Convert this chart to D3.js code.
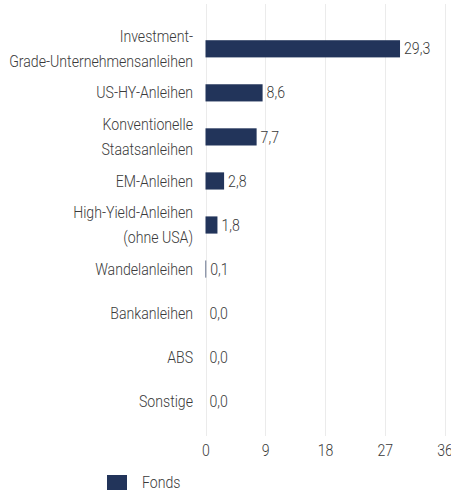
<!DOCTYPE html>
<html lang="de">
<head>
  <meta charset="UTF-8">
  <title>Fonds</title>
  <script src="https://d3js.org/d3.v7.min.js"></script>
  <style>
    body {
      margin: 0;
      padding: 0;
      background: #fff;
    }
    svg text {
      font-family: Roboto, "DejaVu Sans", sans-serif;
      font-weight: 300;
      font-size: 16px;
      fill: #3a3a3a;
    }
  </style>
</head>
<body>
<svg id="chart" width="451" height="495"></svg>
<script>
const categories = [
  ["Investment-", "Grade-Unternehmensanleihen"],
  ["US-HY-Anleihen"],
  ["Konventionelle", "Staatsanleihen"],
  ["EM-Anleihen"],
  ["High-Yield-Anleihen", "(ohne USA)"],
  ["Wandelanleihen"],
  ["Bankanleihen"],
  ["ABS"],
  ["Sonstige"]
];
const values = [29.3, 8.6, 7.7, 2.8, 1.8, 0.1, 0.0, 0.0, 0.0];
const ticks = [0, 9, 18, 27, 36];
const seriesName = "Fonds";

const svg = d3.select("#chart");
const barColor = "#22345a";
const labelX = 193;

// condensed look: measure the longest label and squeeze horizontally
const probe = svg.append("text").text("Grade-Unternehmensanleihen");
const sx = 184 / probe.node().getComputedTextLength();
probe.remove();

const x = d3.scaleLinear().domain([0, 36]).range([205.5, 444.5]);
const y = d3.scaleBand().domain(d3.range(categories.length)).range([27, 423]).paddingInner(0.61).paddingOuter(0.3);

// gridlines
svg.append("g")
  .selectAll("line")
  .data(ticks)
  .join("line")
  .attr("x1", d => Math.round(x(d)) + 0.5)
  .attr("x2", d => Math.round(x(d)) + 0.5)
  .attr("y1", 4)
  .attr("y2", 436)
  .attr("stroke", "#ebebeb")
  .attr("stroke-width", 1);

// x axis labels
const xAxis = svg.append("g")
  .attr("transform", "translate(0,436)")
  .call(d3.axisBottom(x).tickValues(ticks).tickSize(0).tickPadding(9));
xAxis.select(".domain").remove();
xAxis.selectAll("text")
  .attr("font-family", null)
  .attr("font-size", null)
  .attr("fill", null)
  .attr("transform", `scale(${sx},1)`);
xAxis.attr("font-family", null).attr("font-size", null);

// bars
svg.append("g")
  .selectAll("rect")
  .data(values)
  .join("rect")
  .attr("x", x(0))
  .attr("y", (d, i) => y(i))
  .attr("width", d => x(d) - x(0))
  .attr("height", y.bandwidth())
  .attr("fill", barColor);

// value labels
svg.append("g")
  .selectAll("text")
  .data(values)
  .join("text")
  .attr("transform", (d, i) => `translate(${x(d) + 4},${y(i) + y.bandwidth() / 2}) scale(${sx},1)`)
  .attr("dy", "0.35em")
  .text(d => d.toFixed(1).replace(".", ","));

// category labels
const labels = svg.append("g")
  .selectAll("text")
  .data(categories)
  .join("text")
  .attr("text-anchor", "end")
  .attr("transform", (d, i) => `translate(${labelX},${y(i) + y.bandwidth() / 2}) scale(${sx},1)`);
labels.selectAll("tspan")
  .data(d => d.map((t, j) => ({t, j, n: d.length})))
  .join("tspan")
  .attr("x", 0)
  .attr("dy", d => d.j === 0 ? (0.35 - (d.n - 1) * 0.8) + "em" : "1.6em")
  .text(d => d.t);

// legend
const legend = svg.append("g").attr("transform", "translate(107,475)");
legend.append("rect")
  .attr("width", 20)
  .attr("height", 15)
  .attr("fill", barColor);
legend.append("text")
  .attr("transform", `translate(35,7.5) scale(${sx},1)`)
  .attr("dy", "0.35em")
  .text(seriesName);
</script>
</body>
</html>
